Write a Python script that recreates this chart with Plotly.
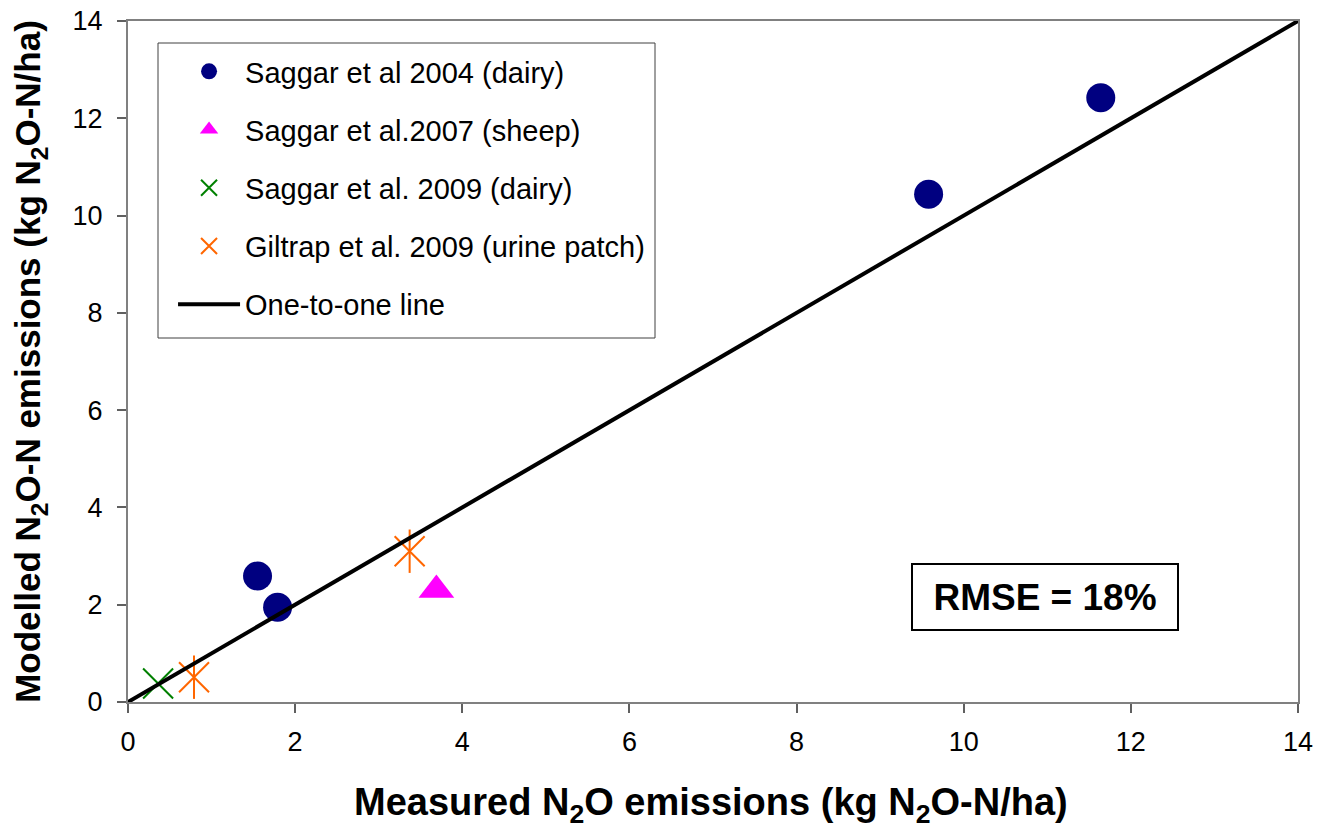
import plotly.graph_objects as go

# ---- data ----
saggar2004_x = [1.55, 1.79, 9.58, 11.64]
saggar2004_y = [2.59, 1.95, 10.44, 12.42]

saggar2007_x = [3.69]
saggar2007_y = [2.30]

saggar2009_x = [0.36]
saggar2009_y = [0.38]

giltrap2009_x = [0.79, 3.37]
giltrap2009_y = [0.51, 3.10]

one_to_one_x = [0, 14]
one_to_one_y = [0, 14]

axis_ticks = [0, 2, 4, 6, 8, 10, 12, 14]

FONT = "Liberation Sans, Arial, sans-serif"

fig = go.Figure()

fig.add_trace(go.Scatter(
    x=saggar2004_x, y=saggar2004_y, mode="markers",
    name="Saggar et al 2004 (dairy)", legendgroup="a",
    marker=dict(symbol="circle", size=29, color="#000080"),
))
fig.add_trace(go.Scatter(
    x=saggar2007_x, y=saggar2007_y, mode="markers",
    name="Saggar et al.2007 (sheep)", legendgroup="b",
    marker=dict(symbol="triangle-up", size=31, color="#FF00FF"),
))
fig.add_trace(go.Scatter(
    x=saggar2009_x, y=saggar2009_y, mode="markers",
    name="Saggar et al. 2009 (dairy)", legendgroup="c",
    marker=dict(symbol="x-thin-open", size=30, color="#008000",
                line=dict(color="#008000", width=2)),
))
fig.add_trace(go.Scatter(
    x=giltrap2009_x, y=giltrap2009_y, mode="markers",
    name="Giltrap et al. 2009 (urine patch)", legendgroup="d",
    marker=dict(symbol="x-thin-open", size=30, color="#FF6600",
                line=dict(color="#FF6600", width=2)),
))
fig.add_trace(go.Scatter(
    x=giltrap2009_x, y=giltrap2009_y, mode="markers",
    name="Giltrap et al. 2009 (urine patch)", legendgroup="d", showlegend=False,
    marker=dict(symbol="line-ns-open", size=31, color="#FF6600",
                line=dict(color="#FF6600", width=2)),
))
fig.add_trace(go.Scatter(
    x=one_to_one_x, y=one_to_one_y, mode="lines",
    name="One-to-one line", legendgroup="e",
    line=dict(color="#000000", width=4),
))

axis_common = dict(
    range=[0, 14], tickvals=axis_ticks, ticktext=[str(t) for t in axis_ticks],
    showgrid=False, zeroline=False, showline=True, mirror=True,
    linecolor="#808080", linewidth=2, ticks="outside", ticklen=9,
    tickwidth=2, tickcolor="#606060", automargin=False,
    tickfont=dict(family=FONT, size=27, color="#000000"),
)

fig.update_layout(
    width=1319, height=829,
    margin=dict(l=128, r=21, t=21, b=127),
    paper_bgcolor="white", plot_bgcolor="white",
    xaxis=dict(**axis_common, ticklabelstandoff=6),
    yaxis=dict(**axis_common, ticklabelstandoff=9,
               title=dict(text="<b>Modelled N<sub>2</sub>O-N emissions (kg N<sub>2</sub>O-N/ha)</b>",
                          font=dict(family=FONT, size=35, color="#000000"),
                          standoff=21)),
    legend=dict(
        x=0.0385, y=0.9633, xanchor="left", yanchor="top",
        bgcolor="rgba(0,0,0,0)", borderwidth=0,
        font=dict(family=FONT, size=29, color="#000000"),
        tracegroupgap=17.5, itemwidth=62,
    ),
    shapes=[dict(
        type="rect", xref="paper", yref="paper", layer="below",
        x0=(158 - 128) / 1170, x1=(655 - 128) / 1170,
        y0=(702 - 338) / 681, y1=(702 - 43) / 681,
        line=dict(color="#404040", width=1), fillcolor="white",
    )],
    annotations=[
        dict(
            xref="paper", yref="paper", x=0.7838, y=0.1542,
            xanchor="center", yanchor="middle",
            text="<b>RMSE = 18%</b>", showarrow=False,
            font=dict(family=FONT, size=37, color="#000000"),
            bordercolor="#000000", borderwidth=2, borderpad=0,
            width=264, height=64, bgcolor="white",
        ),
        dict(
            xref="paper", yref="paper", x=(711 - 128) / 1170, y=(702 - 805) / 681,
            xanchor="center", yanchor="middle",
            text="<b>Measured N<sub>2</sub>O emissions (kg N<sub>2</sub>O-N/ha)</b>",
            showarrow=False,
            font=dict(family=FONT, size=38, color="#000000"),
        ),
    ],
)

fig.write_html("out.html", config={"displayModeBar": False},
               post_script="document.body.style.margin='0';")
